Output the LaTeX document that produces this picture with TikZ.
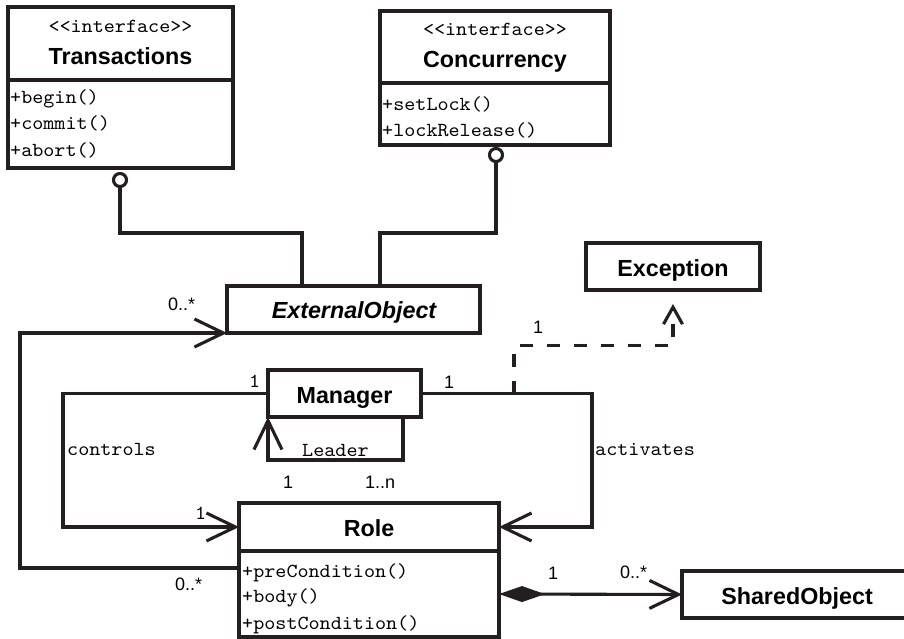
\documentclass[tikz,border=0pt]{standalone}
\usepackage{fontspec}
\setmainfont{Liberation Sans}
\newfontfamily\codefont[FakeStretch=1.06]{lmmono10-regular.otf}
\usetikzlibrary{arrows.meta,calc}

\definecolor{ink}{RGB}{35,31,32}

\tikzset{
  umlbox/.style={draw=ink, line width=3.1pt, rectangle, inner sep=0pt, outer sep=0pt, anchor=north west},
  lolli/.style={draw=ink, line width=3.1pt, circle, fill=white, inner sep=0pt, outer sep=0pt, minimum size=13pt},
  clsname/.style={anchor=base, inner sep=0pt, text=black, font=\bfseries\fontsize{23.3pt}{26pt}\selectfont},
  stereo/.style={anchor=base, inner sep=0pt, text=black, font=\codefont\fontsize{19.9pt}{22pt}\selectfont},
  member/.style={anchor=base west, inner sep=0pt, text=black, font=\codefont\fontsize{19.9pt}{22pt}\selectfont},
  multi/.style={anchor=base west, inner sep=0pt, text=black, font=\fontsize{18pt}{20pt}\selectfont},
  conn/.style={draw=ink, line width=3.1pt},
  opentip/.style={-{Straight Barb[length=29pt,width=28pt]}},
  deptip/.style={-{Straight Barb[length=17pt,width=19pt]}, shorten >=14pt, dash pattern=on 13pt off 14pt},
  comptip/.style={{Diamond[length=46pt,width=16pt,fill=ink]}-{Straight Barb[length=29pt,width=28pt]}},
}

\begin{document}
\begin{tikzpicture}[x=1pt, y=-1pt]
\useasboundingbox (0,0) rectangle (904,639);
\clip (0,0) rectangle (904,639);

% class boxes
\node[umlbox, minimum width=225pt, minimum height=73pt] (transhead) at (8,7) {};
\node[umlbox, minimum width=225pt, minimum height=88pt] (transm) at (8,80) {};
\node[umlbox, minimum width=230pt, minimum height=72pt] (conchead) at (380,11) {};
\node[umlbox, minimum width=230pt, minimum height=62pt] (concm) at (380,83) {};
\node[umlbox, minimum width=253pt, minimum height=47pt] (ext) at (227,286) {};
\node[umlbox, minimum width=174pt, minimum height=47pt] (exc) at (586,243) {};
\node[umlbox, minimum width=153pt, minimum height=47pt] (mgr) at (268,370) {};
\node[umlbox, minimum width=260pt, minimum height=48pt] (rolehead) at (239,503) {};
\node[umlbox, minimum width=260pt, minimum height=86pt] (rolem) at (239,551) {};
\node[umlbox, minimum width=230pt, minimum height=47pt] (shared) at (682,571) {};

% box texts
\node[stereo] (transst) at (120.5,33) {<\kern0pt<interface>\kern0pt>};
\node[clsname] (transname) at (120.5,65) {Transactions};
\node[member] (tm1) at (10,104) {+begin()};
\node[member] (tm2) at (10,130) {+commit()};
\node[member] (tm3) at (10,157) {+abort()};

\node[stereo] (concst) at (495,36) {<\kern0pt<interface>\kern0pt>};
\node[clsname] (concname) at (495,68) {Concurrency};
\node[member] (cm1) at (382,111) {+setLock()};
\node[member] (cm2) at (382,137) {+lockRelease()};

\node[clsname, font=\bfseries\itshape\fontsize{23.3pt}{26pt}\selectfont] (extname) at (354,318) {ExternalObject};
\node[clsname] (excname) at (673,276) {Exception};
\node[clsname] (mgrname) at (344.5,403) {Manager};
\node[clsname] (rolename) at (369,536) {Role};
\node[member] (rm1) at (242,577) {+preCondition()};
\node[member] (rm2) at (242,602) {+body()};
\node[member] (rm3) at (242,629) {+postCondition()};
\node[clsname] (sharedname) at (797,604) {SharedObject};

% provided interfaces
\node[lolli] (tl) at (120,180) {};
\node[lolli] (cl) at (496,155) {};
\coordinate (ybus) at (0,233);
\draw[conn] (tl.south) -- (tl.south |- ybus) -| ($(ext.north west)+(75,0)$);
\draw[conn] (cl.south) -- (cl.south |- ybus) -| ($(ext.north west)+(153,0)$);

% associations
\draw[conn, opentip] ($(rolem.north west)+(0,17)$) -- ++(-219,0) |- (ext.south west);
\draw[conn, opentip] (mgr.west) -- ++(-205,0) |- (rolehead.west);
\draw[conn, opentip] (mgr.east) -- ++(171,0) |- (rolehead.east);
\draw[conn, opentip] ($(mgr.south east)+(-18,0)$) -- ++(0,43) -| (mgr.south west);
\draw[conn, deptip] ($(mgr.east)+(93,0)$) -- ++(0,-48) -| (exc.south);
\draw[conn, comptip] (rolem.east) -- (shared.west);

% association labels and multiplicities
\node[multi] (m1) at (168,310) {0..*};
\node[multi] (m2) at (175,590) {0..*};
\node[member] (m3) at (195,519) {1};
\node[member] (m4) at (249,387) {1};
\node[multi] (m5) at (444,388) {1};
\node[multi] (m6) at (283,488) {1};
\node[multi] (m7) at (365,488) {1..n};
\node[member] (lead) at (302,456) {Leader};
\node[member] (ctrl) at (67,455) {controls};
\node[member] (act) at (595,455) {activates};
\node[multi] (m8) at (533,333) {1};
\node[multi] (m9) at (548,579) {1};
\node[multi] (m10) at (620,578) {0..*};
\end{tikzpicture}
\end{document}
